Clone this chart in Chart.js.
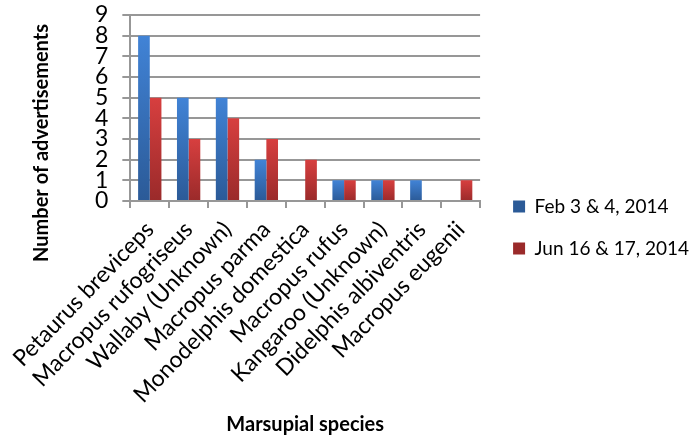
<!DOCTYPE html>
<html>
<head>
<meta charset="utf-8">
<script src="https://cdn.jsdelivr.net/npm/chart.js@4"></script>
<style>
  html, body { margin: 0; padding: 0; background: #fff; }
  #wrap { width: 699px; height: 443px; }
</style>
</head>
<body>
<div id="wrap"><canvas id="chart"></canvas></div>
<script>
// Données
const species = ['Petaurus breviceps', 'Macropus rufogriseus', 'Wallaby (Unknown)', 'Macropus parma',
  'Monodelphis domestica', 'Macropus rufus', 'Kangaroo (Unknown)', 'Didelphis albiventris', 'Macropus eugenii'];
const febCounts = [8, 5, 5, 2, 0, 1, 1, 1, 0];
const junCounts = [5, 3, 4, 3, 2, 1, 1, 0, 1];
const seriesNames = ['Feb 3 & 4, 2014', 'Jun 16 & 17, 2014'];
const yTitle = 'Number of advertisements';
const xTitle = 'Marsupial species';

const FONT = 'Lato, "Open Sans", sans-serif';
const gridColor = '#979797';

// dégradé vertical par barre (clair en haut, foncé en bas)
function barFill(top, bottom, flat) {
  return ctx => {
    const chart = ctx.chart;
    if (ctx.type !== 'data' || !chart.chartArea) return flat;
    const y = chart.scales.y;
    const yTop = y.getPixelForValue(ctx.raw);
    const yBot = y.getPixelForValue(0);
    if (!(yBot > yTop)) return flat;
    const g = chart.ctx.createLinearGradient(0, yTop, 0, yBot);
    g.addColorStop(0, top);
    g.addColorStop(1, bottom);
    return g;
  };
}

// titre vertical dessiné à la main (décalé vers le bas comme dans Excel)
const yTitlePlugin = {
  id: 'yTitlePlugin',
  afterDraw(chart) {
    const { ctx, chartArea } = chart;
    ctx.save();
    ctx.translate(42, (chartArea.top + chartArea.bottom) / 2 + 35);
    ctx.rotate(-Math.PI / 2);
    ctx.font = 'bold 20px ' + FONT;
    ctx.fillStyle = '#000';
    ctx.textAlign = 'center';
    ctx.textBaseline = 'middle';
    ctx.fillText(yTitle, 0, 0);
    ctx.restore();
  }
};

new Chart(document.getElementById('chart'), {
  type: 'bar',
  data: {
    labels: species,
    datasets: [
      {
        label: seriesNames[0],
        data: febCounts,
        backgroundColor: barFill('#4183d6', '#2b5a97', '#3a70b8')
      },
      {
        label: seriesNames[1],
        data: junCounts,
        backgroundColor: barFill('#d73f3f', '#9a2a2a', '#bd3535')
      }
    ]
  },
  options: {
    responsive: true,
    maintainAspectRatio: false,
    animation: false,
    layout: { padding: { left: 81, right: 0, top: 4, bottom: 4 } },
    datasets: { bar: { categoryPercentage: 0.6, barPercentage: 1.0 } },
    scales: {
      x: {
        grid: { display: true, drawOnChartArea: false, color: gridColor, lineWidth: 2, tickLength: 7, offset: true },
        border: { display: true, color: gridColor, width: 2 },
        ticks: { color: '#000', font: { family: FONT, size: 23 }, minRotation: 46, maxRotation: 46, autoSkip: false, padding: 8 },
        title: { display: true, text: xTitle, color: '#000', font: { family: FONT, size: 20, weight: 'bold' }, padding: { top: 20, bottom: 2 } },
        // l'axe des x prend plus que la moitié de la hauteur, comme dans l'original
        afterFit: s => { s.height = 238; }
      },
      y: {
        min: 0,
        max: 9,
        ticks: { stepSize: 1, autoSkip: false, color: '#000', font: { family: FONT, size: 23, lineHeight: 1.0 }, padding: 14 },
        grid: { color: gridColor, lineWidth: 2, tickLength: 8 },
        border: { display: true, color: gridColor, width: 2 },
        afterFit: s => { s.paddingTop = 15; }
      },
      // axe vide : ménage l'espace entre le graphe et la légende
      gap: {
        type: 'linear',
        position: 'right',
        display: true,
        grid: { display: false },
        border: { display: false },
        ticks: { display: false },
        afterFit: s => { s.width = 10; }
      }
    },
    plugins: {
      legend: {
        position: 'right',
        maxWidth: 230,
        title: { display: true, text: ' ', font: { size: 10, lineHeight: 1.2 }, padding: 0 },
        labels: {
          color: '#000',
          font: { family: FONT, size: 19 },
          boxWidth: 12,
          boxHeight: 12,
          padding: 23
        }
      },
      tooltip: { enabled: false }
    }
  },
  plugins: [yTitlePlugin]
});
</script>
</body>
</html>
